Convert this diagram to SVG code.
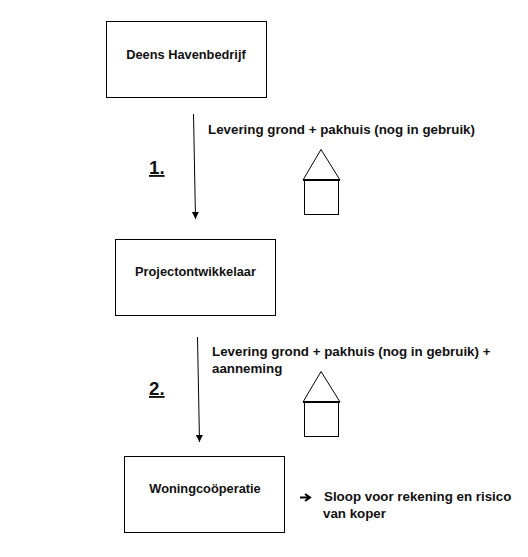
<svg xmlns="http://www.w3.org/2000/svg" width="528" height="557" viewBox="0 0 528 557">
<defs><marker id="a" markerWidth="8" markerHeight="8" refX="7" refY="3.500" orient="auto" markerUnits="userSpaceOnUse"><path d="M0 0L7 3.500L0 7z" fill="#000"/></marker></defs>
<style>
text{font-family:"Liberation Sans",Arial,sans-serif;font-size:13.330px;font-weight:700;fill:#111}
.b{fill:#fff;stroke:#000;stroke-width:1}
.h{fill:#fff;stroke:#000;stroke-width:1}
.t{font-size:12.800px;text-anchor:middle}
.n{font-size:18.700px;text-decoration:underline}
</style>
<rect width="528" height="557" fill="#fff"/>
<g id="connectors" stroke="#000" fill="none">
<path d="M193.500 114L195.500 219" marker-end="url(#a)"/>
<path d="M197.500 337L199.500 442" marker-end="url(#a)"/>
</g>
<g id="node-deens"><rect class="b" x="106.500" y="21.500" width="160" height="76"/><text class="t" x="186" y="59">Deens Havenbedrijf</text></g>
<g id="node-project"><rect class="b" x="115.500" y="239.500" width="160" height="76"/><text class="t" x="195.500" y="276">Projectontwikkelaar</text></g>
<g id="node-woning"><rect class="b" x="124.500" y="456.500" width="160" height="76"/><text class="t" x="205" y="493">Woningcoöperatie</text></g>
<g id="house-1"><path class="h" d="M303 180L321 149.500L340 180Z"/><rect class="h" x="304.500" y="180.500" width="34" height="34"/><path d="M303 180H340" stroke="#000" stroke-width="2"/></g>
<g id="house-2"><path class="h" d="M303 402L321 371.500L340 402Z"/><rect class="h" x="304.500" y="402.500" width="34" height="34"/><path d="M303 402H340" stroke="#000" stroke-width="2"/></g>
<g id="labels">
<text x="208" y="134">Levering grond + pakhuis (nog in gebruik)</text>
<text x="212" y="356">Levering grond + pakhuis (nog in gebruik) +</text>
<text x="212" y="373">aanneming</text>
<text class="n" x="149" y="174">1.</text>
<text class="n" x="149" y="395">2.</text>
<text x="324" y="501">Sloop voor rekening en risico</text>
<text x="323" y="518">van koper</text>
<path d="M300 497.500H309M305 494L310 497.500L305 501" fill="none" stroke="#000" stroke-width="2"/>
</g>
</svg>
